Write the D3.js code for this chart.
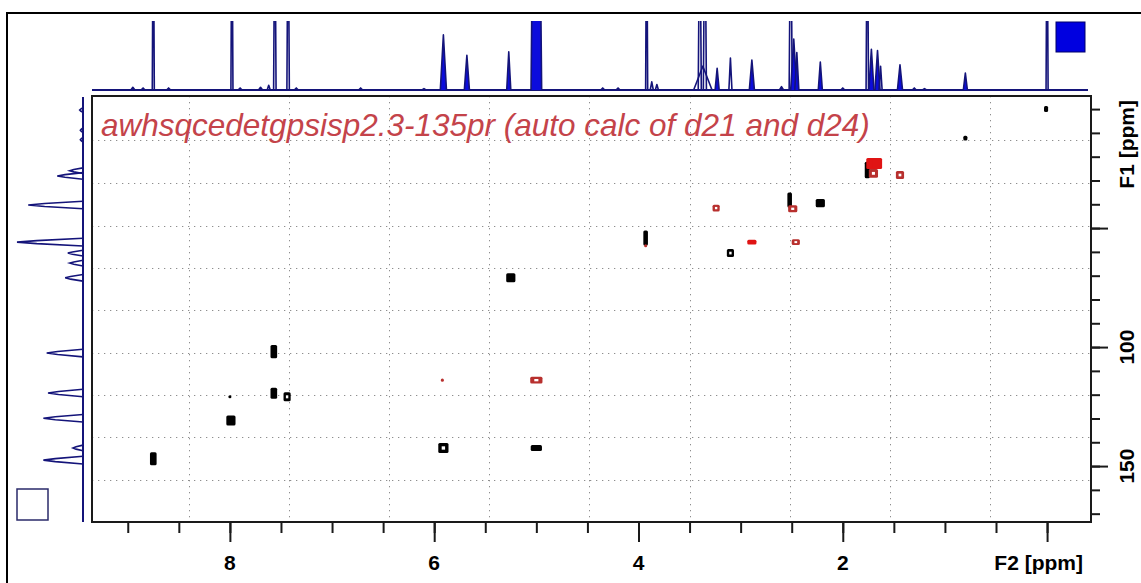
<!DOCTYPE html>
<html>
<head>
<meta charset="utf-8">
<script src="https://cdn.jsdelivr.net/npm/d3@7/dist/d3.min.js"></script>
<style>
  body { margin: 0; background: #fff; }
  svg { display: block; }
  text { font-family: "Liberation Sans", Arial, sans-serif; }
</style>
</head>
<body>
<div id="chart"></div>
<script>
// ---- data ----
// 2D cross peaks: F2 (1H) and F1 (13C) shifts, phase sign, extent in ppm, contour levels
var peakF2     = [0.01, 0.80, 1.76, 1.72, 1.66, 1.70, 1.44, 2.52, 2.49, 2.22, 3.24, 3.93, 3.93, 2.89, 2.46, 3.10, 5.25, 7.57, 8.00, 7.57, 7.44, 7.99, 8.75, 5.92, 5.00, 5.91, 5.00];
var peakF1     = [0.0, 12.2, 25.6, 22.9, 22.9, 27.0, 27.7, 38.2, 41.9, 39.5, 41.6, 54.2, 57.4, 55.9, 55.9, 60.5, 70.9, 101.9, 120.9, 119.4, 120.9, 130.9, 146.9, 113.9, 113.9, 142.4, 142.4];
var peakSign   = [1, 1, 1, -1, -1, -1, -1, 1, -1, 1, -1, 1, -1, -1, -1, 1, 1, 1, 1, 1, 1, 1, 1, -1, -1, 1, 1];
var peakSpanF2 = [0.04, 0.04, 0.05, 0.10, 0.09, 0.09, 0.08, 0.045, 0.09, 0.09, 0.07, 0.045, 0.03, 0.09, 0.08, 0.07, 0.09, 0.065, 0.03, 0.065, 0.07, 0.09, 0.065, 0.03, 0.12, 0.10, 0.11];
var peakSpanF1 = [2.5, 2.1, 7.0, 4.6, 4.6, 3.6, 3.4, 6.3, 2.9, 3.4, 2.9, 6.3, 1.3, 2.1, 2.5, 3.4, 3.8, 5.5, 1.3, 4.6, 3.8, 4.2, 5.5, 1.3, 2.9, 4.2, 2.5];
var peakLevels = [3, 3, 3, 3, 3, 2, 2, 3, 2, 3, 1, 3, 2, 3, 1, 1, 3, 3, 3, 3, 1, 3, 3, 1, 1, 1, 3];

// 1H projection (top): shift, relative height (>1 runs off scale), half width
var hShift  = [8.95, 8.85, 8.75, 8.60, 7.98, 7.90, 7.70, 7.62, 7.56, 7.43, 7.35, 6.72, 6.10, 5.91, 5.68, 5.27, 5.00, 4.35, 4.20, 3.92, 3.87, 3.82, 3.40, 3.35, 3.37, 3.23, 3.10, 2.89, 2.60, 2.51, 2.48, 2.45, 2.22, 2.00, 1.76, 1.72, 1.66, 1.63, 1.44, 1.30, 1.20, 0.80, 0.00];
var hHeight = [0.04, 0.03, 3.0, 0.03, 3.0, 0.03, 0.04, 0.07, 3.0, 3.0, 0.03, 0.03, 0.02, 0.81, 0.51, 0.56, 8.0, 0.03, 0.03, 3.0, 0.12, 0.08, 3.0, 3.0, 0.35, 0.32, 0.47, 0.44, 0.05, 3.0, 0.75, 0.55, 0.41, 0.03, 3.0, 0.60, 0.58, 0.35, 0.37, 0.03, 0.02, 0.25, 3.0];
var hWidth  = [0.02, 0.02, 0.010, 0.02, 0.010, 0.02, 0.02, 0.015, 0.012, 0.012, 0.02, 0.02, 0.02, 0.030, 0.025, 0.020, 0.052, 0.02, 0.02, 0.010, 0.015, 0.015, 0.015, 0.015, 0.09, 0.020, 0.015, 0.025, 0.02, 0.015, 0.030, 0.020, 0.020, 0.02, 0.012, 0.025, 0.025, 0.015, 0.025, 0.02, 0.02, 0.020, 0.010];

// 13C projection (left): shift, relative height, half width
var cShift  = [0.4, 8.9, 12.9, 25.9, 28.1, 40.3, 55.9, 60.5, 64.7, 70.9, 102.5, 119.3, 129.9, 142.4, 147.5];
var cHeight = [0.05, 0.04, 0.04, 0.20, 0.39, 0.83, 1.00, 0.23, 0.20, 0.27, 0.55, 0.53, 0.60, 0.15, 0.60];
var cWidth  = [1.0, 1.0, 1.0, 1.2, 1.4, 1.6, 1.6, 1.2, 1.2, 1.4, 1.6, 1.6, 1.6, 1.2, 1.6];

// axes
var f2MinorTicks = d3.range(0, 9.01, 0.5);
var f2MajorTicks = [8, 6, 4, 2, 0];
var f2TickLabels = [8, 6, 4, 2];
var f1MinorTicks = d3.range(0, 171, 10);
var f1MajorTicks = [50, 100, 150];
var f1TickLabels = [100, 150];
var gridF2 = [8.4, 7.42, 6.44, 5.46, 4.48, 3.5, 2.52, 1.54, 0.56];
var gridF1 = [13, 31, 49, 66.6, 84.4, 102.3, 120.1, 137.9, 155.9];
var title = 'awhsqcedetgpsisp2.3-135pr (auto calc of d21 and d24)';

// ---- drawing ----
var width = 1141, height = 583;
var plot = {left: 92, top: 96, right: 1091, bottom: 522};

var x = d3.scaleLinear().domain([9.35, -0.43]).range([plot.left, plot.right]);
var y = d3.scaleLinear().domain([-5.5, 173.5]).range([plot.top, plot.bottom]);
var hy = d3.scaleLinear().domain([0, 1]).range([90, 22]);   // top projection intensity
var cx = d3.scaleLinear().domain([0, 1]).range([83, 17]);   // left projection intensity

var svg = d3.select('#chart').append('svg')
    .attr('width', width)
    .attr('height', height);

var defs = svg.append('defs');
defs.append('clipPath').attr('id', 'clipTop')
  .append('rect').attr('x', plot.left - 2).attr('y', 21).attr('width', plot.right - plot.left).attr('height', 72);

// outer frame (cut by the window on the right and bottom)
svg.append('rect')
    .attr('x', 7).attr('y', 13)
    .attr('width', width + 20).attr('height', height + 20)
    .attr('fill', 'none').attr('stroke', '#000').attr('stroke-width', 2);

// grid
var grid = svg.append('g').attr('class', 'grid')
    .attr('stroke', '#8e8e8e').attr('stroke-width', 1).attr('stroke-dasharray', '1.3,4.7');
grid.selectAll('.gv').data(gridF2).enter().append('line')
    .attr('x1', function(d) { return Math.round(x(d)) + 0.5; })
    .attr('x2', function(d) { return Math.round(x(d)) + 0.5; })
    .attr('y1', plot.top).attr('y2', plot.bottom);
grid.selectAll('.gh').data(gridF1).enter().append('line')
    .attr('y1', function(d) { return Math.round(y(d)) + 0.5; })
    .attr('y2', function(d) { return Math.round(y(d)) + 0.5; })
    .attr('x1', plot.left).attr('x2', plot.right);

// cross peaks
var peaks = peakF2.map(function(f2, i) {
  return {f2: f2, f1: peakF1[i], sign: peakSign[i], sx: peakSpanF2[i], sy: peakSpanF1[i], lv: peakLevels[i]};
});
function peakColor(d) {
  if (d.sign > 0) return '#000';
  return d.lv >= 3 ? '#e01414' : '#b8302e';
}
var pk = svg.append('g').attr('class', 'peaks')
  .selectAll('g').data(peaks).enter().append('g');
pk.append('rect')
    .attr('x', function(d) { return x(d.f2 + d.sx / 2); })
    .attr('y', function(d) { return y(d.f1 - d.sy / 2); })
    .attr('width', function(d) { return x(d.f2 - d.sx / 2) - x(d.f2 + d.sx / 2); })
    .attr('height', function(d) { return y(d.f1 + d.sy / 2) - y(d.f1 - d.sy / 2); })
    .attr('rx', 1.5)
    .attr('fill', peakColor);
pk.filter(function(d) { return d.lv < 3 && d.sx > 0.05; }).append('rect')
    .attr('x', function(d) { return x(d.f2 + d.sx / 6); })
    .attr('y', function(d) { return y(d.f1 - d.sy / 6); })
    .attr('width', function(d) { return x(d.f2 - d.sx / 6) - x(d.f2 + d.sx / 6); })
    .attr('height', function(d) { return y(d.f1 + d.sy / 6) - y(d.f1 - d.sy / 6); })
    .attr('fill', '#fff');

// title
svg.append('text')
    .attr('x', 101).attr('y', 136)
    .attr('font-size', 31.5)
    .attr('font-style', 'italic')
    .attr('fill', '#c4434a')
    .text(title);

// plot frame
svg.append('rect')
    .attr('x', plot.left).attr('y', plot.top)
    .attr('width', plot.right - plot.left).attr('height', plot.bottom - plot.top)
    .attr('fill', 'none').attr('stroke', '#1a1a1a').attr('stroke-width', 2);

// F2 axis
var xAxis = svg.append('g').attr('transform', 'translate(0,' + plot.bottom + ')');
xAxis.call(d3.axisBottom(x).tickValues(f2MinorTicks).tickSize(11).tickFormat(''));
xAxis.append('g').call(d3.axisBottom(x).tickValues(f2MajorTicks).tickSize(20).tickFormat(''));
xAxis.selectAll('.domain').remove();
xAxis.selectAll('line').attr('stroke', '#1a1a1a').attr('stroke-width', 2);
svg.selectAll('.f2lab').data(f2TickLabels).enter().append('text')
    .attr('x', function(d) { return x(d); })
    .attr('y', 570)
    .attr('text-anchor', 'middle')
    .attr('font-size', 21).attr('font-weight', 'bold')
    .text(function(d) { return d; });
svg.append('text')
    .attr('x', 1083).attr('y', 570)
    .attr('text-anchor', 'end')
    .attr('font-size', 21).attr('font-weight', 'bold')
    .text('F2 [ppm]');

// F1 axis
var yAxis = svg.append('g').attr('transform', 'translate(' + plot.right + ',0)');
yAxis.call(d3.axisRight(y).tickValues(f1MinorTicks).tickSize(9).tickFormat(''));
yAxis.append('g').call(d3.axisRight(y).tickValues(f1MajorTicks).tickSize(17).tickFormat(''));
yAxis.selectAll('.domain').remove();
yAxis.selectAll('line').attr('stroke', '#1a1a1a').attr('stroke-width', 2);
svg.selectAll('.f1lab').data(f1TickLabels).enter().append('text')
    .attr('transform', function(d) { return 'translate(1134,' + y(d) + ') rotate(-90)'; })
    .attr('text-anchor', 'middle')
    .attr('font-size', 21).attr('font-weight', 'bold')
    .text(function(d) { return d; });
svg.append('text')
    .attr('transform', 'translate(1134,100) rotate(-90)')
    .attr('text-anchor', 'end')
    .attr('font-size', 21).attr('font-weight', 'bold')
    .text('F1 [ppm]');

// 1H projection on top
var line = d3.line();
var hPeaks = hShift.map(function(s, i) { return {s: s, h: hHeight[i], w: hWidth[i]}; });
var topProj = svg.append('g').attr('clip-path', 'url(#clipTop)');
topProj.append('line')
    .attr('x1', x(9.35)).attr('x2', 1088)
    .attr('y1', hy(0)).attr('y2', hy(0))
    .attr('stroke', '#14147a').attr('stroke-width', 2);
topProj.selectAll('path').data(hPeaks).enter().append('path')
    .attr('d', function(d) { return line([[x(d.s + d.w), hy(0)], [x(d.s), hy(d.h)], [x(d.s - d.w), hy(0)]]); })
    .attr('fill', function(d) { return d.w >= 0.02 && d.w < 0.08 && d.h > 0.2 ? '#0c0cdc' : 'none'; })
    .attr('stroke', '#14147a').attr('stroke-width', 1.6)
    .attr('stroke-linejoin', 'round');

// scaling box
svg.append('rect')
    .attr('x', 1056).attr('y', 22).attr('width', 29).attr('height', 30)
    .attr('fill', '#0000e0').attr('stroke', '#00006a').attr('stroke-width', 1);

// 13C projection on the left
var cPeaks = cShift.map(function(s, i) { return {s: s, h: cHeight[i], w: cWidth[i]}; });
var leftProj = svg.append('g');
leftProj.append('line')
    .attr('x1', cx(0)).attr('x2', cx(0))
    .attr('y1', plot.top + 1).attr('y2', plot.bottom)
    .attr('stroke', '#14147a').attr('stroke-width', 2);
leftProj.selectAll('path').data(cPeaks).enter().append('path')
    .attr('d', function(d) {
      return line([[cx(0), y(d.s - d.w)], [cx(d.h * 0.7), y(d.s - d.w * 0.4)], [cx(d.h), y(d.s)], [cx(d.h * 0.7), y(d.s + d.w * 0.4)], [cx(0), y(d.s + d.w)]]);
    })
    .attr('fill', 'none')
    .attr('stroke', '#14147a').attr('stroke-width', 1.6);

// small empty box bottom left
svg.append('rect')
    .attr('x', 17).attr('y', 489).attr('width', 31).attr('height', 31)
    .attr('fill', '#fff').attr('stroke', '#2a2a6a').attr('stroke-width', 1.5);
</script>
</body>
</html>
